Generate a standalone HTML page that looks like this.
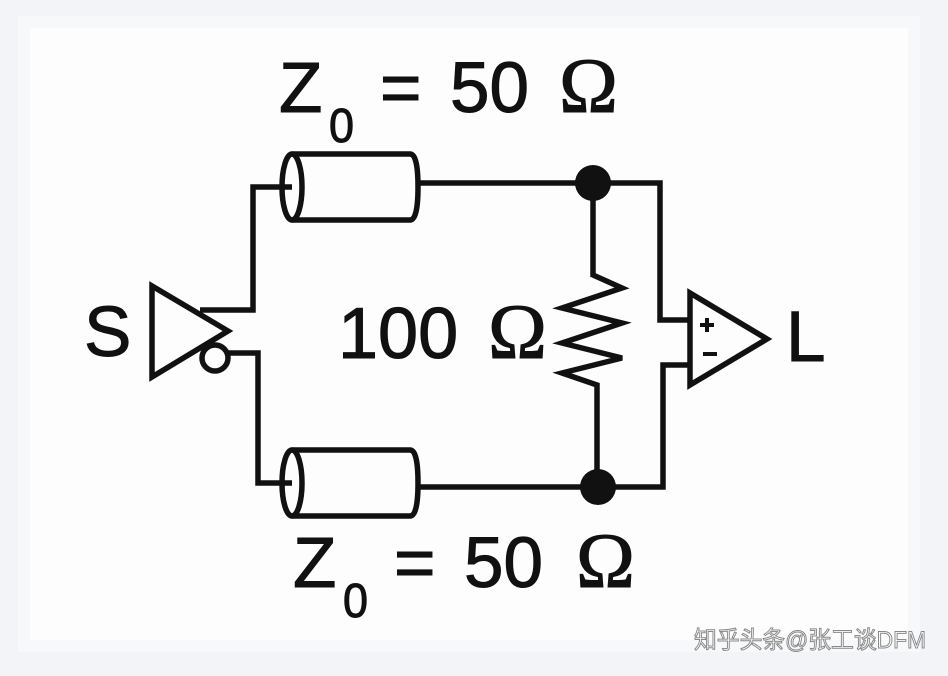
<!DOCTYPE html>
<html><head><meta charset="utf-8"><style>
html,body{margin:0;padding:0;background:#f2f4f7;}
svg{display:block;}
text{font-family:"Liberation Sans",sans-serif;fill:#111;stroke:#111;stroke-width:1;}
.o{font-family:"Liberation Serif",serif;}
</style></head><body>
<svg width="948" height="676" viewBox="0 0 948 676" xmlns="http://www.w3.org/2000/svg">
<rect x="0" y="0" width="948" height="676" fill="#f2f4f7"/>
<rect x="18" y="16" width="902" height="636" fill="#f7f8fa"/>
<rect x="30" y="28" width="878" height="612" fill="#fdfdfe"/>
<g fill="none" stroke="#111" stroke-width="5.5" stroke-linejoin="miter">
  <polygon points="152,286 152,377 228,331"/>
  <circle cx="215" cy="358" r="13"/>
  <polyline points="200,310 253,310 253,187 292,187"/>
  <polyline points="228,353 258,353 258,483 292,483"/>
  <path d="M292,154 H410 Q418,154 418,187 Q418,220 410,220 H292"/>
  <ellipse cx="292" cy="187" rx="10" ry="33"/>
  <path d="M292,450 H410 Q418,450 418,483 Q418,516 410,516 H292"/>
  <ellipse cx="292" cy="483" rx="10" ry="33"/>
  <polyline points="418,183 660,183 660,320 690,320"/>
  <polyline points="418,487 663,487 663,365 690,365"/>
  <polyline points="593,183 593,275 622,288 562,308 622,323 562,343 622,358 562,373 597,385 597,487"/>
  <polygon points="690,293 690,385 767,339"/>
</g>
<circle cx="593" cy="183" r="18" fill="#111"/>
<circle cx="598" cy="487" r="18" fill="#111"/>
<g stroke="#111" stroke-width="4">
  <line x1="700" y1="325" x2="714" y2="325"/><line x1="707" y1="318" x2="707" y2="332"/>
  <line x1="703" y1="354" x2="717" y2="354"/>
</g>
<text x="279" y="112" font-size="71">Z</text>
<text x="329" y="142" font-size="48" textLength="25" lengthAdjust="spacingAndGlyphs">0</text>
<text x="380" y="112" font-size="71">=</text>
<text x="450" y="112" font-size="71">50</text>
<text class="o" x="559" y="112" font-size="78" textLength="59" lengthAdjust="spacingAndGlyphs">Ω</text>
<text x="293" y="587" font-size="71">Z</text>
<text x="343" y="617" font-size="48" textLength="25" lengthAdjust="spacingAndGlyphs">0</text>
<text x="394" y="587" font-size="71">=</text>
<text x="464" y="587" font-size="71">50</text>
<text class="o" x="576" y="587" font-size="78" textLength="59" lengthAdjust="spacingAndGlyphs">Ω</text>
<text x="338" y="358" font-size="72">100</text>
<text class="o" x="488" y="358" font-size="78" textLength="59" lengthAdjust="spacingAndGlyphs">Ω</text>
<text x="84" y="356" font-size="71">S</text>
<text x="786" y="361" font-size="71">L</text>
<text x="694" y="648" font-size="24" textLength="232" lengthAdjust="spacingAndGlyphs" style="font-family:'Liberation Sans','Noto Sans CJK SC',sans-serif;fill:#fff;stroke:#888;stroke-width:1">知乎头条@张工谈DFM</text>
</svg>
</body></html>
